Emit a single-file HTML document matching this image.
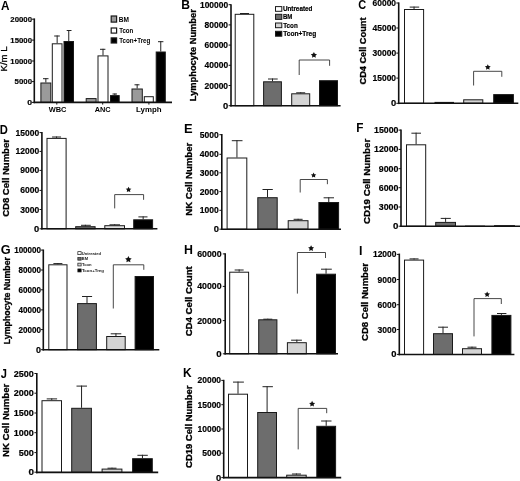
<!DOCTYPE html>
<html><head><meta charset="utf-8"><style>
html,body{margin:0;padding:0;background:#fff;}
svg{display:block;will-change:transform;font-family:"Liberation Sans", sans-serif;}
</style></head><body>
<svg width="520" height="481" viewBox="0 0 520 481">
<rect width="520" height="481" fill="#fff"/>
<g>
<text transform="matrix(0.9460,0,0,1,1.005,9.600)" font-size="12.464" font-weight="bold" fill="#000">A</text>
<line x1="31.90" y1="19.20" x2="34.30" y2="19.20" stroke="#111" stroke-width="1.0"/>
<text transform="matrix(1.0023,0,0,1,10.359,21.882)" font-size="7.775" font-weight="bold" fill="#000" stroke="#000" stroke-width="0.18">20000</text>
<line x1="31.90" y1="40.10" x2="34.30" y2="40.10" stroke="#111" stroke-width="1.0"/>
<text transform="matrix(1.0025,0,0,1,10.354,42.782)" font-size="7.775" font-weight="bold" fill="#000" stroke="#000" stroke-width="0.18">15000</text>
<line x1="31.90" y1="61.00" x2="34.30" y2="61.00" stroke="#111" stroke-width="1.0"/>
<text transform="matrix(1.0025,0,0,1,10.354,63.682)" font-size="7.775" font-weight="bold" fill="#000" stroke="#000" stroke-width="0.18">10000</text>
<line x1="31.90" y1="81.60" x2="34.30" y2="81.60" stroke="#111" stroke-width="1.0"/>
<text transform="matrix(1.0086,0,0,1,14.577,84.282)" font-size="7.775" font-weight="bold" fill="#000" stroke="#000" stroke-width="0.18">5000</text>
<line x1="31.90" y1="102.40" x2="34.30" y2="102.40" stroke="#111" stroke-width="1.0"/>
<text transform="matrix(1.1183,0,0,1,27.232,105.082)" font-size="7.775" font-weight="bold" fill="#000" stroke="#000" stroke-width="0.18">0</text>
<text transform="matrix(0,-0.9897,1,0,6.853,71.415)" font-size="9.660" font-weight="normal" fill="#000" stroke="#000" stroke-width="0.30">K/m L</text>
<line x1="45.85" y1="78.20" x2="45.85" y2="82.50" stroke="#222" stroke-width="1.0"/>
<line x1="43.00" y1="78.70" x2="48.50" y2="78.70" stroke="#222" stroke-width="1.0"/>
<rect x="40.90" y="83.00" width="9.90" height="19.40" fill="#9a9a9a" stroke="#1a1a1a" stroke-width="1.0"/>
<line x1="57.15" y1="35.50" x2="57.15" y2="43.30" stroke="#222" stroke-width="1.0"/>
<line x1="54.20" y1="36.00" x2="59.80" y2="36.00" stroke="#222" stroke-width="1.0"/>
<rect x="52.30" y="43.80" width="9.70" height="58.60" fill="#fff" stroke="#1a1a1a" stroke-width="1.0"/>
<line x1="68.75" y1="30.00" x2="68.75" y2="41.00" stroke="#222" stroke-width="1.0"/>
<line x1="66.70" y1="30.50" x2="71.50" y2="30.50" stroke="#222" stroke-width="1.0"/>
<rect x="64.00" y="41.50" width="9.50" height="60.90" fill="#000" stroke="#1a1a1a" stroke-width="1.0"/>
<rect x="86.20" y="98.60" width="9.90" height="3.80" fill="#9a9a9a" stroke="#1a1a1a" stroke-width="1.0"/>
<line x1="103.00" y1="48.80" x2="103.00" y2="55.40" stroke="#222" stroke-width="1.0"/>
<line x1="100.00" y1="49.30" x2="105.40" y2="49.30" stroke="#222" stroke-width="1.0"/>
<rect x="98.00" y="55.90" width="10.00" height="46.50" fill="#fff" stroke="#1a1a1a" stroke-width="1.0"/>
<line x1="114.85" y1="93.50" x2="114.85" y2="95.10" stroke="#222" stroke-width="1.0"/>
<line x1="112.50" y1="94.00" x2="117.00" y2="94.00" stroke="#222" stroke-width="1.0"/>
<rect x="110.50" y="95.60" width="8.70" height="6.80" fill="#000" stroke="#1a1a1a" stroke-width="1.0"/>
<line x1="137.15" y1="84.30" x2="137.15" y2="88.50" stroke="#222" stroke-width="1.0"/>
<line x1="134.50" y1="84.80" x2="139.50" y2="84.80" stroke="#222" stroke-width="1.0"/>
<rect x="132.00" y="89.00" width="10.30" height="13.40" fill="#9a9a9a" stroke="#1a1a1a" stroke-width="1.0"/>
<rect x="144.30" y="96.70" width="9.00" height="5.70" fill="#fff" stroke="#1a1a1a" stroke-width="1.0"/>
<line x1="160.75" y1="41.20" x2="160.75" y2="51.50" stroke="#222" stroke-width="1.0"/>
<line x1="158.00" y1="41.70" x2="163.40" y2="41.70" stroke="#222" stroke-width="1.0"/>
<rect x="156.20" y="52.00" width="9.10" height="50.40" fill="#000" stroke="#1a1a1a" stroke-width="1.0"/>
<line x1="34.30" y1="18.40" x2="34.30" y2="103.20" stroke="#111" stroke-width="1.6"/>
<line x1="33.60" y1="102.40" x2="172.00" y2="102.40" stroke="#111" stroke-width="1.6"/>
<line x1="56.80" y1="102.40" x2="56.80" y2="104.60" stroke="#111" stroke-width="1.0"/>
<line x1="102.70" y1="102.40" x2="102.70" y2="104.60" stroke="#111" stroke-width="1.0"/>
<line x1="148.90" y1="102.40" x2="148.90" y2="104.60" stroke="#111" stroke-width="1.0"/>
<text transform="matrix(1.0085,0,0,1,181.211,8.800)" font-size="12.029" font-weight="bold" fill="#000">B</text>
<line x1="228.60" y1="4.70" x2="231.00" y2="4.70" stroke="#111" stroke-width="1.0"/>
<text transform="matrix(0.9505,0,0,1,199.932,7.771)" font-size="8.901" font-weight="bold" fill="#000" stroke="#000" stroke-width="0.18">100000</text>
<line x1="228.60" y1="24.90" x2="231.00" y2="24.90" stroke="#111" stroke-width="1.0"/>
<text transform="matrix(0.9540,0,0,1,204.542,27.971)" font-size="8.901" font-weight="bold" fill="#000" stroke="#000" stroke-width="0.18">80000</text>
<line x1="228.60" y1="45.10" x2="231.00" y2="45.10" stroke="#111" stroke-width="1.0"/>
<text transform="matrix(0.9540,0,0,1,204.541,48.171)" font-size="8.901" font-weight="bold" fill="#000" stroke="#000" stroke-width="0.18">60000</text>
<line x1="228.60" y1="65.30" x2="231.00" y2="65.30" stroke="#111" stroke-width="1.0"/>
<text transform="matrix(0.9539,0,0,1,204.545,68.371)" font-size="8.901" font-weight="bold" fill="#000" stroke="#000" stroke-width="0.18">40000</text>
<line x1="228.60" y1="85.50" x2="231.00" y2="85.50" stroke="#111" stroke-width="1.0"/>
<text transform="matrix(0.9540,0,0,1,204.541,88.571)" font-size="8.901" font-weight="bold" fill="#000" stroke="#000" stroke-width="0.18">20000</text>
<line x1="228.60" y1="105.70" x2="231.00" y2="105.70" stroke="#111" stroke-width="1.0"/>
<text transform="matrix(1.0554,0,0,1,222.972,108.771)" font-size="8.901" font-weight="bold" fill="#000" stroke="#000" stroke-width="0.18">0</text>
<text transform="matrix(0,-1.0602,1,0,195.708,101.154)" font-size="8.770" font-weight="bold" fill="#000" stroke="#000" stroke-width="0.30">Lymphocyte Number</text>
<line x1="244.50" y1="13.00" x2="244.50" y2="13.80" stroke="#222" stroke-width="1.0"/>
<line x1="240.00" y1="13.50" x2="249.00" y2="13.50" stroke="#222" stroke-width="1.0"/>
<rect x="235.20" y="14.30" width="18.60" height="91.40" fill="#fff" stroke="#1a1a1a" stroke-width="1.0"/>
<line x1="272.50" y1="78.50" x2="272.50" y2="81.30" stroke="#222" stroke-width="1.0"/>
<line x1="268.00" y1="79.00" x2="277.70" y2="79.00" stroke="#222" stroke-width="1.0"/>
<rect x="263.60" y="81.80" width="17.80" height="23.90" fill="#6d6d6d" stroke="#1a1a1a" stroke-width="1.0"/>
<line x1="300.70" y1="92.30" x2="300.70" y2="93.30" stroke="#222" stroke-width="1.0"/>
<line x1="296.20" y1="92.80" x2="305.20" y2="92.80" stroke="#222" stroke-width="1.0"/>
<rect x="291.70" y="93.80" width="18.00" height="11.90" fill="#d4d4d4" stroke="#1a1a1a" stroke-width="1.0"/>
<rect x="319.50" y="80.70" width="18.00" height="25.00" fill="#000" stroke="#1a1a1a" stroke-width="1.0"/>
<line x1="231.00" y1="4.20" x2="231.00" y2="106.50" stroke="#111" stroke-width="1.6"/>
<line x1="230.30" y1="105.70" x2="340.60" y2="105.70" stroke="#111" stroke-width="1.6"/>
<polyline points="299.2,75 299.2,60 329.6,60 329.6,65.8" fill="none" stroke="#333" stroke-width="0.9"/>
<polygon points="313.90,51.90 314.86,53.84 316.99,54.15 315.45,55.65 315.81,57.78 313.90,56.77 311.99,57.78 312.35,55.65 310.81,54.15 312.94,53.84" fill="#111"/>
<text transform="matrix(0.8672,0,0,1,358.360,8.573)" font-size="12.676" font-weight="bold" fill="#000">C</text>
<line x1="396.30" y1="3.00" x2="398.70" y2="3.00" stroke="#111" stroke-width="1.0"/>
<text transform="matrix(0.9540,0,0,1,372.541,6.071)" font-size="8.901" font-weight="bold" fill="#000" stroke="#000" stroke-width="0.18">60000</text>
<line x1="396.30" y1="28.00" x2="398.70" y2="28.00" stroke="#111" stroke-width="1.0"/>
<text transform="matrix(0.9539,0,0,1,372.545,31.071)" font-size="8.901" font-weight="bold" fill="#000" stroke="#000" stroke-width="0.18">45000</text>
<line x1="396.30" y1="53.10" x2="398.70" y2="53.10" stroke="#111" stroke-width="1.0"/>
<text transform="matrix(0.9540,0,0,1,372.543,56.171)" font-size="8.901" font-weight="bold" fill="#000" stroke="#000" stroke-width="0.18">30000</text>
<line x1="396.30" y1="78.10" x2="398.70" y2="78.10" stroke="#111" stroke-width="1.0"/>
<text transform="matrix(0.9542,0,0,1,372.536,81.171)" font-size="8.901" font-weight="bold" fill="#000" stroke="#000" stroke-width="0.18">15000</text>
<line x1="396.30" y1="103.30" x2="398.70" y2="103.30" stroke="#111" stroke-width="1.0"/>
<text transform="matrix(1.0554,0,0,1,390.972,106.371)" font-size="8.901" font-weight="bold" fill="#000" stroke="#000" stroke-width="0.18">0</text>
<text transform="matrix(0,-1.0097,1,0,366.059,84.518)" font-size="9.116" font-weight="bold" fill="#000" stroke="#000" stroke-width="0.30">CD4 Cell Count</text>
<line x1="414.05" y1="6.60" x2="414.05" y2="9.00" stroke="#222" stroke-width="1.0"/>
<line x1="409.70" y1="7.10" x2="419.20" y2="7.10" stroke="#222" stroke-width="1.0"/>
<rect x="404.50" y="9.50" width="19.10" height="93.80" fill="#fff" stroke="#1a1a1a" stroke-width="1.0"/>
<rect x="435.00" y="102.40" width="18.50" height="0.90" fill="#6d6d6d" stroke="#1a1a1a" stroke-width="1.0"/>
<rect x="463.70" y="99.80" width="19.10" height="3.50" fill="#d4d4d4" stroke="#1a1a1a" stroke-width="1.0"/>
<rect x="493.70" y="94.60" width="19.70" height="8.70" fill="#000" stroke="#1a1a1a" stroke-width="1.0"/>
<line x1="398.70" y1="2.40" x2="398.70" y2="104.10" stroke="#111" stroke-width="1.6"/>
<line x1="398.00" y1="103.30" x2="518.30" y2="103.30" stroke="#111" stroke-width="1.6"/>
<polyline points="473.6,85.5 473.6,71.3 501.8,71.3 501.8,76.8" fill="none" stroke="#333" stroke-width="0.9"/>
<polygon points="487.80,64.15 488.70,65.97 490.70,66.26 489.25,67.67 489.59,69.67 487.80,68.72 486.01,69.67 486.35,67.67 484.90,66.26 486.90,65.97" fill="#111"/>
<text transform="matrix(0.8898,0,0,1,-0.129,133.700)" font-size="12.609" font-weight="bold" fill="#000">D</text>
<line x1="39.50" y1="132.60" x2="41.90" y2="132.60" stroke="#111" stroke-width="1.0"/>
<text transform="matrix(0.9696,0,0,1,15.536,135.622)" font-size="8.761" font-weight="bold" fill="#000" stroke="#000" stroke-width="0.18">15000</text>
<line x1="39.50" y1="151.40" x2="41.90" y2="151.40" stroke="#111" stroke-width="1.0"/>
<text transform="matrix(0.9696,0,0,1,15.536,154.422)" font-size="8.761" font-weight="bold" fill="#000" stroke="#000" stroke-width="0.18">12000</text>
<line x1="39.50" y1="170.40" x2="41.90" y2="170.40" stroke="#111" stroke-width="1.0"/>
<text transform="matrix(0.9750,0,0,1,20.146,173.422)" font-size="8.761" font-weight="bold" fill="#000" stroke="#000" stroke-width="0.18">9000</text>
<line x1="39.50" y1="190.40" x2="41.90" y2="190.40" stroke="#111" stroke-width="1.0"/>
<text transform="matrix(0.9750,0,0,1,20.146,193.422)" font-size="8.761" font-weight="bold" fill="#000" stroke="#000" stroke-width="0.18">6000</text>
<line x1="39.50" y1="209.50" x2="41.90" y2="209.50" stroke="#111" stroke-width="1.0"/>
<text transform="matrix(0.9749,0,0,1,20.148,212.522)" font-size="8.761" font-weight="bold" fill="#000" stroke="#000" stroke-width="0.18">3000</text>
<line x1="39.50" y1="228.80" x2="41.90" y2="228.80" stroke="#111" stroke-width="1.0"/>
<text transform="matrix(1.0724,0,0,1,33.972,231.822)" font-size="8.761" font-weight="bold" fill="#000" stroke="#000" stroke-width="0.18">0</text>
<text transform="matrix(0,-1.0463,1,0,9.459,216.832)" font-size="9.116" font-weight="bold" fill="#000" stroke="#000" stroke-width="0.30">CD8 Cell Number</text>
<line x1="56.55" y1="136.50" x2="56.55" y2="137.90" stroke="#222" stroke-width="1.0"/>
<line x1="52.05" y1="137.00" x2="61.05" y2="137.00" stroke="#222" stroke-width="1.0"/>
<rect x="47.00" y="138.40" width="19.10" height="90.40" fill="#fff" stroke="#1a1a1a" stroke-width="1.0"/>
<line x1="85.40" y1="224.80" x2="85.40" y2="226.20" stroke="#222" stroke-width="1.0"/>
<line x1="81.00" y1="225.30" x2="90.80" y2="225.30" stroke="#222" stroke-width="1.0"/>
<rect x="75.70" y="226.70" width="19.40" height="2.10" fill="#6d6d6d" stroke="#1a1a1a" stroke-width="1.0"/>
<line x1="114.65" y1="224.30" x2="114.65" y2="225.20" stroke="#222" stroke-width="1.0"/>
<line x1="109.50" y1="224.80" x2="120.00" y2="224.80" stroke="#222" stroke-width="1.0"/>
<rect x="104.80" y="225.70" width="19.70" height="3.10" fill="#e2e2e2" stroke="#1a1a1a" stroke-width="1.0"/>
<line x1="143.15" y1="216.40" x2="143.15" y2="219.30" stroke="#222" stroke-width="1.0"/>
<line x1="138.40" y1="216.90" x2="147.50" y2="216.90" stroke="#222" stroke-width="1.0"/>
<rect x="133.70" y="219.80" width="18.90" height="9.00" fill="#000" stroke="#1a1a1a" stroke-width="1.0"/>
<line x1="41.90" y1="132.00" x2="41.90" y2="229.60" stroke="#111" stroke-width="1.6"/>
<line x1="41.20" y1="228.80" x2="157.40" y2="228.80" stroke="#111" stroke-width="1.6"/>
<polyline points="114.7,208.4 114.7,194.6 143.6,194.6 143.6,199.8" fill="none" stroke="#333" stroke-width="0.9"/>
<polygon points="128.55,186.65 129.43,188.44 131.40,188.72 129.98,190.11 130.31,192.08 128.55,191.15 126.79,192.08 127.12,190.11 125.70,188.72 127.67,188.44" fill="#111"/>
<text transform="matrix(0.9797,0,0,1,183.960,133.100)" font-size="13.188" font-weight="bold" fill="#000">E</text>
<line x1="219.40" y1="134.70" x2="221.80" y2="134.70" stroke="#111" stroke-width="1.0"/>
<text transform="matrix(0.9595,0,0,1,199.847,137.771)" font-size="8.901" font-weight="bold" fill="#000" stroke="#000" stroke-width="0.18">5000</text>
<line x1="219.40" y1="154.30" x2="221.80" y2="154.30" stroke="#111" stroke-width="1.0"/>
<text transform="matrix(0.9594,0,0,1,199.851,157.371)" font-size="8.901" font-weight="bold" fill="#000" stroke="#000" stroke-width="0.18">4000</text>
<line x1="219.40" y1="172.80" x2="221.80" y2="172.80" stroke="#111" stroke-width="1.0"/>
<text transform="matrix(0.9595,0,0,1,199.848,175.871)" font-size="8.901" font-weight="bold" fill="#000" stroke="#000" stroke-width="0.18">3000</text>
<line x1="219.40" y1="191.60" x2="221.80" y2="191.60" stroke="#111" stroke-width="1.0"/>
<text transform="matrix(0.9596,0,0,1,199.846,194.671)" font-size="8.901" font-weight="bold" fill="#000" stroke="#000" stroke-width="0.18">2000</text>
<line x1="219.40" y1="210.30" x2="221.80" y2="210.30" stroke="#111" stroke-width="1.0"/>
<text transform="matrix(0.9599,0,0,1,199.840,213.371)" font-size="8.901" font-weight="bold" fill="#000" stroke="#000" stroke-width="0.18">1000</text>
<line x1="219.40" y1="229.20" x2="221.80" y2="229.20" stroke="#111" stroke-width="1.0"/>
<text transform="matrix(1.0554,0,0,1,213.672,232.271)" font-size="8.901" font-weight="bold" fill="#000" stroke="#000" stroke-width="0.18">0</text>
<text transform="matrix(0,-1.1035,1,0,191.763,215.775)" font-size="8.707" font-weight="bold" fill="#000" stroke="#000" stroke-width="0.30">NK Cell Number</text>
<line x1="236.95" y1="140.20" x2="236.95" y2="157.50" stroke="#222" stroke-width="1.0"/>
<line x1="231.80" y1="140.70" x2="242.50" y2="140.70" stroke="#222" stroke-width="1.0"/>
<rect x="227.10" y="158.00" width="19.70" height="71.20" fill="#fff" stroke="#1a1a1a" stroke-width="1.0"/>
<line x1="267.50" y1="189.00" x2="267.50" y2="197.20" stroke="#222" stroke-width="1.0"/>
<line x1="262.50" y1="189.50" x2="272.80" y2="189.50" stroke="#222" stroke-width="1.0"/>
<rect x="257.80" y="197.70" width="19.40" height="31.50" fill="#6d6d6d" stroke="#1a1a1a" stroke-width="1.0"/>
<line x1="298.10" y1="218.80" x2="298.10" y2="220.20" stroke="#222" stroke-width="1.0"/>
<line x1="293.60" y1="219.30" x2="302.60" y2="219.30" stroke="#222" stroke-width="1.0"/>
<rect x="288.20" y="220.70" width="19.80" height="8.50" fill="#d4d4d4" stroke="#1a1a1a" stroke-width="1.0"/>
<line x1="328.75" y1="197.30" x2="328.75" y2="202.00" stroke="#222" stroke-width="1.0"/>
<line x1="323.60" y1="197.80" x2="334.00" y2="197.80" stroke="#222" stroke-width="1.0"/>
<rect x="318.90" y="202.50" width="19.70" height="26.70" fill="#000" stroke="#1a1a1a" stroke-width="1.0"/>
<line x1="221.80" y1="134.10" x2="221.80" y2="230.00" stroke="#111" stroke-width="1.6"/>
<line x1="221.10" y1="229.20" x2="341.00" y2="229.20" stroke="#111" stroke-width="1.6"/>
<polyline points="300.2,192.5 300.2,179.5 327.4,179.5 327.4,184.2" fill="none" stroke="#333" stroke-width="0.9"/>
<polygon points="313.60,172.45 314.44,174.15 316.31,174.42 314.96,175.74 315.28,177.61 313.60,176.72 311.92,177.61 312.24,175.74 310.89,174.42 312.76,174.15" fill="#111"/>
<text transform="matrix(0.9020,0,0,1,356.235,131.800)" font-size="13.043" font-weight="bold" fill="#000">F</text>
<line x1="398.60" y1="130.10" x2="401.00" y2="130.10" stroke="#111" stroke-width="1.0"/>
<text transform="matrix(0.9879,0,0,1,374.014,133.171)" font-size="8.901" font-weight="bold" fill="#000" stroke="#000" stroke-width="0.18">15000</text>
<line x1="398.60" y1="149.40" x2="401.00" y2="149.40" stroke="#111" stroke-width="1.0"/>
<text transform="matrix(0.9879,0,0,1,374.014,152.471)" font-size="8.901" font-weight="bold" fill="#000" stroke="#000" stroke-width="0.18">12000</text>
<line x1="398.60" y1="168.70" x2="401.00" y2="168.70" stroke="#111" stroke-width="1.0"/>
<text transform="matrix(0.9933,0,0,1,378.791,171.771)" font-size="8.901" font-weight="bold" fill="#000" stroke="#000" stroke-width="0.18">9000</text>
<line x1="398.60" y1="187.70" x2="401.00" y2="187.70" stroke="#111" stroke-width="1.0"/>
<text transform="matrix(0.9933,0,0,1,378.791,190.771)" font-size="8.901" font-weight="bold" fill="#000" stroke="#000" stroke-width="0.18">6000</text>
<line x1="398.60" y1="207.00" x2="401.00" y2="207.00" stroke="#111" stroke-width="1.0"/>
<text transform="matrix(0.9932,0,0,1,378.793,210.071)" font-size="8.901" font-weight="bold" fill="#000" stroke="#000" stroke-width="0.18">3000</text>
<line x1="398.60" y1="226.20" x2="401.00" y2="226.20" stroke="#111" stroke-width="1.0"/>
<text transform="matrix(1.0891,0,0,1,393.117,229.271)" font-size="8.901" font-weight="bold" fill="#000" stroke="#000" stroke-width="0.18">0</text>
<text transform="matrix(0,-1.0270,1,0,369.655,224.041)" font-size="9.524" font-weight="bold" fill="#000" stroke="#000" stroke-width="0.30">CD19 Cell Number</text>
<line x1="416.10" y1="132.70" x2="416.10" y2="144.30" stroke="#222" stroke-width="1.0"/>
<line x1="411.40" y1="133.20" x2="421.00" y2="133.20" stroke="#222" stroke-width="1.0"/>
<rect x="406.50" y="144.80" width="19.20" height="81.40" fill="#fff" stroke="#1a1a1a" stroke-width="1.0"/>
<line x1="445.60" y1="217.90" x2="445.60" y2="221.90" stroke="#222" stroke-width="1.0"/>
<line x1="440.70" y1="218.40" x2="450.80" y2="218.40" stroke="#222" stroke-width="1.0"/>
<rect x="435.70" y="222.40" width="19.80" height="3.80" fill="#6d6d6d" stroke="#1a1a1a" stroke-width="1.0"/>
<rect x="465.50" y="226.10" width="19.00" height="0.10" fill="#d4d4d4" stroke="#1a1a1a" stroke-width="1.0"/>
<rect x="494.50" y="225.70" width="20.00" height="0.50" fill="#000" stroke="#1a1a1a" stroke-width="1.0"/>
<line x1="401.00" y1="129.50" x2="401.00" y2="227.00" stroke="#111" stroke-width="1.6"/>
<line x1="400.30" y1="226.20" x2="520.00" y2="226.20" stroke="#111" stroke-width="1.6"/>
<text transform="matrix(1.0398,0,0,1,0.690,254.077)" font-size="12.254" font-weight="bold" fill="#000">G</text>
<line x1="40.90" y1="250.10" x2="43.30" y2="250.10" stroke="#111" stroke-width="1.0"/>
<text transform="matrix(0.9056,0,0,1,14.150,253.171)" font-size="8.901" font-weight="bold" fill="#000" stroke="#000" stroke-width="0.18">100000</text>
<line x1="40.90" y1="270.00" x2="43.30" y2="270.00" stroke="#111" stroke-width="1.0"/>
<text transform="matrix(0.9091,0,0,1,18.538,273.071)" font-size="8.901" font-weight="bold" fill="#000" stroke="#000" stroke-width="0.18">80000</text>
<line x1="40.90" y1="289.80" x2="43.30" y2="289.80" stroke="#111" stroke-width="1.0"/>
<text transform="matrix(0.9091,0,0,1,18.537,292.871)" font-size="8.901" font-weight="bold" fill="#000" stroke="#000" stroke-width="0.18">60000</text>
<line x1="40.90" y1="309.90" x2="43.30" y2="309.90" stroke="#111" stroke-width="1.0"/>
<text transform="matrix(0.9089,0,0,1,18.541,312.971)" font-size="8.901" font-weight="bold" fill="#000" stroke="#000" stroke-width="0.18">40000</text>
<line x1="40.90" y1="329.60" x2="43.30" y2="329.60" stroke="#111" stroke-width="1.0"/>
<text transform="matrix(0.9091,0,0,1,18.537,332.671)" font-size="8.901" font-weight="bold" fill="#000" stroke="#000" stroke-width="0.18">20000</text>
<line x1="40.90" y1="349.70" x2="43.30" y2="349.70" stroke="#111" stroke-width="1.0"/>
<text transform="matrix(1.0105,0,0,1,36.078,352.771)" font-size="8.901" font-weight="bold" fill="#000" stroke="#000" stroke-width="0.18">0</text>
<text transform="matrix(0,-1.0826,1,0,9.743,344.222)" font-size="8.128" font-weight="bold" fill="#000" stroke="#000" stroke-width="0.30">Lymphocyte Number</text>
<line x1="57.90" y1="263.10" x2="57.90" y2="264.30" stroke="#222" stroke-width="1.0"/>
<line x1="53.40" y1="263.60" x2="62.40" y2="263.60" stroke="#222" stroke-width="1.0"/>
<rect x="48.80" y="264.80" width="18.20" height="84.90" fill="#fff" stroke="#1a1a1a" stroke-width="1.0"/>
<line x1="87.00" y1="296.00" x2="87.00" y2="303.10" stroke="#222" stroke-width="1.0"/>
<line x1="82.00" y1="296.50" x2="92.10" y2="296.50" stroke="#222" stroke-width="1.0"/>
<rect x="77.60" y="303.60" width="18.80" height="46.10" fill="#6d6d6d" stroke="#1a1a1a" stroke-width="1.0"/>
<line x1="115.95" y1="333.30" x2="115.95" y2="336.00" stroke="#222" stroke-width="1.0"/>
<line x1="110.70" y1="333.80" x2="121.30" y2="333.80" stroke="#222" stroke-width="1.0"/>
<rect x="106.70" y="336.50" width="18.50" height="13.20" fill="#d4d4d4" stroke="#1a1a1a" stroke-width="1.0"/>
<rect x="135.10" y="276.50" width="18.40" height="73.20" fill="#000" stroke="#1a1a1a" stroke-width="1.0"/>
<line x1="43.30" y1="249.50" x2="43.30" y2="350.50" stroke="#111" stroke-width="1.6"/>
<line x1="42.60" y1="349.70" x2="159.30" y2="349.70" stroke="#111" stroke-width="1.6"/>
<polyline points="113.3,308.5 113.3,264.8 143.8,264.8 143.8,269.8" fill="none" stroke="#333" stroke-width="0.9"/>
<polygon points="128.40,256.00 129.41,258.05 131.68,258.38 130.04,259.98 130.43,262.24 128.40,261.18 126.37,262.24 126.76,259.98 125.12,258.38 127.39,258.05" fill="#111"/>
<text transform="matrix(0.9701,0,0,1,183.996,253.800)" font-size="12.754" font-weight="bold" fill="#000">H</text>
<line x1="222.80" y1="253.90" x2="225.20" y2="253.90" stroke="#111" stroke-width="1.0"/>
<text transform="matrix(0.9877,0,0,1,197.219,256.971)" font-size="8.901" font-weight="bold" fill="#000" stroke="#000" stroke-width="0.18">60000</text>
<line x1="222.80" y1="286.40" x2="225.20" y2="286.40" stroke="#111" stroke-width="1.0"/>
<text transform="matrix(0.9876,0,0,1,197.223,289.471)" font-size="8.901" font-weight="bold" fill="#000" stroke="#000" stroke-width="0.18">40000</text>
<line x1="222.80" y1="320.60" x2="225.20" y2="320.60" stroke="#111" stroke-width="1.0"/>
<text transform="matrix(0.9877,0,0,1,197.219,323.671)" font-size="8.901" font-weight="bold" fill="#000" stroke="#000" stroke-width="0.18">20000</text>
<line x1="222.80" y1="353.80" x2="225.20" y2="353.80" stroke="#111" stroke-width="1.0"/>
<text transform="matrix(1.0891,0,0,1,216.317,356.871)" font-size="8.901" font-weight="bold" fill="#000" stroke="#000" stroke-width="0.18">0</text>
<text transform="matrix(0,-1.1607,1,0,192.167,336.335)" font-size="8.299" font-weight="bold" fill="#000" stroke="#000" stroke-width="0.30">CD4 Cell Count</text>
<line x1="239.15" y1="269.50" x2="239.15" y2="271.70" stroke="#222" stroke-width="1.0"/>
<line x1="234.65" y1="270.00" x2="243.65" y2="270.00" stroke="#222" stroke-width="1.0"/>
<rect x="229.70" y="272.20" width="18.90" height="81.60" fill="#fff" stroke="#1a1a1a" stroke-width="1.0"/>
<line x1="267.80" y1="318.70" x2="267.80" y2="319.30" stroke="#222" stroke-width="1.0"/>
<line x1="263.30" y1="319.20" x2="272.30" y2="319.20" stroke="#222" stroke-width="1.0"/>
<rect x="258.70" y="319.80" width="18.20" height="34.00" fill="#6d6d6d" stroke="#1a1a1a" stroke-width="1.0"/>
<line x1="296.85" y1="339.70" x2="296.85" y2="342.20" stroke="#222" stroke-width="1.0"/>
<line x1="291.10" y1="340.20" x2="301.90" y2="340.20" stroke="#222" stroke-width="1.0"/>
<rect x="287.40" y="342.70" width="18.90" height="11.10" fill="#d4d4d4" stroke="#1a1a1a" stroke-width="1.0"/>
<line x1="326.05" y1="268.70" x2="326.05" y2="273.70" stroke="#222" stroke-width="1.0"/>
<line x1="321.00" y1="269.20" x2="331.80" y2="269.20" stroke="#222" stroke-width="1.0"/>
<rect x="316.60" y="274.20" width="18.90" height="79.60" fill="#000" stroke="#1a1a1a" stroke-width="1.0"/>
<line x1="225.20" y1="253.30" x2="225.20" y2="354.60" stroke="#111" stroke-width="1.6"/>
<line x1="224.50" y1="353.80" x2="338.00" y2="353.80" stroke="#111" stroke-width="1.6"/>
<polyline points="297.4,293.6 297.4,252.5 325.5,252.5 325.5,258" fill="none" stroke="#333" stroke-width="0.9"/>
<polygon points="311.10,245.20 312.03,247.08 314.10,247.38 312.60,248.84 312.95,250.90 311.10,249.92 309.25,250.90 309.60,248.84 308.10,247.38 310.17,247.08" fill="#111"/>
<text transform="matrix(0.9960,0,0,1,358.993,254.500)" font-size="12.464" font-weight="bold" fill="#000">I</text>
<line x1="396.90" y1="254.40" x2="399.30" y2="254.40" stroke="#111" stroke-width="1.0"/>
<text transform="matrix(0.9542,0,0,1,372.936,257.471)" font-size="8.901" font-weight="bold" fill="#000" stroke="#000" stroke-width="0.18">12000</text>
<line x1="396.90" y1="279.50" x2="399.30" y2="279.50" stroke="#111" stroke-width="1.0"/>
<text transform="matrix(0.9596,0,0,1,377.546,282.571)" font-size="8.901" font-weight="bold" fill="#000" stroke="#000" stroke-width="0.18">9000</text>
<line x1="396.90" y1="304.70" x2="399.30" y2="304.70" stroke="#111" stroke-width="1.0"/>
<text transform="matrix(0.9596,0,0,1,377.546,307.771)" font-size="8.901" font-weight="bold" fill="#000" stroke="#000" stroke-width="0.18">6000</text>
<line x1="396.90" y1="329.50" x2="399.30" y2="329.50" stroke="#111" stroke-width="1.0"/>
<text transform="matrix(0.9595,0,0,1,377.548,332.571)" font-size="8.901" font-weight="bold" fill="#000" stroke="#000" stroke-width="0.18">3000</text>
<line x1="396.90" y1="354.40" x2="399.30" y2="354.40" stroke="#111" stroke-width="1.0"/>
<text transform="matrix(1.0554,0,0,1,391.372,357.471)" font-size="8.901" font-weight="bold" fill="#000" stroke="#000" stroke-width="0.18">0</text>
<text transform="matrix(0,-1.0799,1,0,367.762,340.932)" font-size="8.844" font-weight="bold" fill="#000" stroke="#000" stroke-width="0.30">CD8 Cell Number</text>
<line x1="414.05" y1="258.40" x2="414.05" y2="259.60" stroke="#222" stroke-width="1.0"/>
<line x1="409.55" y1="258.90" x2="418.55" y2="258.90" stroke="#222" stroke-width="1.0"/>
<rect x="404.50" y="260.10" width="19.10" height="94.40" fill="#fff" stroke="#1a1a1a" stroke-width="1.0"/>
<line x1="443.00" y1="326.70" x2="443.00" y2="333.20" stroke="#222" stroke-width="1.0"/>
<line x1="438.10" y1="327.20" x2="448.00" y2="327.20" stroke="#222" stroke-width="1.0"/>
<rect x="433.50" y="333.70" width="19.00" height="20.80" fill="#6d6d6d" stroke="#1a1a1a" stroke-width="1.0"/>
<line x1="472.00" y1="346.70" x2="472.00" y2="348.20" stroke="#222" stroke-width="1.0"/>
<line x1="467.50" y1="347.20" x2="476.50" y2="347.20" stroke="#222" stroke-width="1.0"/>
<rect x="462.50" y="348.70" width="19.00" height="5.80" fill="#d4d4d4" stroke="#1a1a1a" stroke-width="1.0"/>
<line x1="501.40" y1="313.00" x2="501.40" y2="314.90" stroke="#222" stroke-width="1.0"/>
<line x1="497.00" y1="313.50" x2="506.40" y2="313.50" stroke="#222" stroke-width="1.0"/>
<rect x="491.90" y="315.40" width="19.00" height="39.10" fill="#000" stroke="#1a1a1a" stroke-width="1.0"/>
<line x1="399.30" y1="253.60" x2="399.30" y2="355.30" stroke="#111" stroke-width="1.6"/>
<line x1="398.60" y1="354.50" x2="514.40" y2="354.50" stroke="#111" stroke-width="1.6"/>
<polyline points="474,336.4 474,298.6 501.3,298.6 501.3,304" fill="none" stroke="#333" stroke-width="0.9"/>
<polygon points="487.15,291.50 488.03,293.29 490.00,293.57 488.58,294.96 488.91,296.93 487.15,296.00 485.39,296.93 485.72,294.96 484.30,293.57 486.27,293.29" fill="#111"/>
<text transform="matrix(0.9082,0,0,1,0.833,378.277)" font-size="12.286" font-weight="bold" fill="#000">J</text>
<line x1="34.40" y1="373.50" x2="36.80" y2="373.50" stroke="#111" stroke-width="1.0"/>
<text transform="matrix(1.0158,0,0,1,13.754,376.571)" font-size="8.901" font-weight="bold" fill="#000" stroke="#000" stroke-width="0.18">2500</text>
<line x1="34.40" y1="393.20" x2="36.80" y2="393.20" stroke="#111" stroke-width="1.0"/>
<text transform="matrix(1.0158,0,0,1,13.754,396.271)" font-size="8.901" font-weight="bold" fill="#000" stroke="#000" stroke-width="0.18">2000</text>
<line x1="34.40" y1="413.00" x2="36.80" y2="413.00" stroke="#111" stroke-width="1.0"/>
<text transform="matrix(1.0161,0,0,1,13.747,416.071)" font-size="8.901" font-weight="bold" fill="#000" stroke="#000" stroke-width="0.18">1500</text>
<line x1="34.40" y1="432.70" x2="36.80" y2="432.70" stroke="#111" stroke-width="1.0"/>
<text transform="matrix(1.0161,0,0,1,13.747,435.771)" font-size="8.901" font-weight="bold" fill="#000" stroke="#000" stroke-width="0.18">1000</text>
<line x1="34.40" y1="452.60" x2="36.80" y2="452.60" stroke="#111" stroke-width="1.0"/>
<text transform="matrix(1.0252,0,0,1,18.680,455.671)" font-size="8.901" font-weight="bold" fill="#000" stroke="#000" stroke-width="0.18">500</text>
<line x1="34.40" y1="472.20" x2="36.80" y2="472.20" stroke="#111" stroke-width="1.0"/>
<text transform="matrix(1.1116,0,0,1,28.414,475.271)" font-size="8.901" font-weight="bold" fill="#000" stroke="#000" stroke-width="0.18">0</text>
<text transform="matrix(0,-1.0443,1,0,9.457,457.078)" font-size="9.252" font-weight="bold" fill="#000" stroke="#000" stroke-width="0.30">NK Cell Number</text>
<line x1="51.75" y1="398.40" x2="51.75" y2="400.20" stroke="#222" stroke-width="1.0"/>
<line x1="46.70" y1="398.90" x2="57.10" y2="398.90" stroke="#222" stroke-width="1.0"/>
<rect x="42.00" y="400.70" width="19.50" height="71.70" fill="#fff" stroke="#1a1a1a" stroke-width="1.0"/>
<line x1="81.55" y1="385.60" x2="81.55" y2="407.80" stroke="#222" stroke-width="1.0"/>
<line x1="76.50" y1="386.10" x2="87.00" y2="386.10" stroke="#222" stroke-width="1.0"/>
<rect x="71.70" y="408.30" width="19.70" height="64.10" fill="#6d6d6d" stroke="#1a1a1a" stroke-width="1.0"/>
<line x1="112.00" y1="467.70" x2="112.00" y2="468.60" stroke="#222" stroke-width="1.0"/>
<line x1="107.50" y1="468.20" x2="116.50" y2="468.20" stroke="#222" stroke-width="1.0"/>
<rect x="102.10" y="469.10" width="19.80" height="3.30" fill="#d4d4d4" stroke="#1a1a1a" stroke-width="1.0"/>
<line x1="142.45" y1="454.80" x2="142.45" y2="458.20" stroke="#222" stroke-width="1.0"/>
<line x1="137.40" y1="455.30" x2="147.80" y2="455.30" stroke="#222" stroke-width="1.0"/>
<rect x="132.60" y="458.70" width="19.70" height="13.70" fill="#000" stroke="#1a1a1a" stroke-width="1.0"/>
<line x1="36.80" y1="372.90" x2="36.80" y2="473.20" stroke="#111" stroke-width="1.6"/>
<line x1="36.10" y1="472.40" x2="158.20" y2="472.40" stroke="#111" stroke-width="1.6"/>
<text transform="matrix(0.8953,0,0,1,183.024,376.800)" font-size="13.333" font-weight="bold" fill="#000">K</text>
<line x1="221.30" y1="380.40" x2="223.70" y2="380.40" stroke="#111" stroke-width="1.0"/>
<text transform="matrix(0.9540,0,0,1,197.541,383.471)" font-size="8.901" font-weight="bold" fill="#000" stroke="#000" stroke-width="0.18">20000</text>
<line x1="221.30" y1="404.70" x2="223.70" y2="404.70" stroke="#111" stroke-width="1.0"/>
<text transform="matrix(0.9542,0,0,1,197.536,407.771)" font-size="8.901" font-weight="bold" fill="#000" stroke="#000" stroke-width="0.18">15000</text>
<line x1="221.30" y1="429.00" x2="223.70" y2="429.00" stroke="#111" stroke-width="1.0"/>
<text transform="matrix(0.9542,0,0,1,197.536,432.071)" font-size="8.901" font-weight="bold" fill="#000" stroke="#000" stroke-width="0.18">10000</text>
<line x1="221.30" y1="453.20" x2="223.70" y2="453.20" stroke="#111" stroke-width="1.0"/>
<text transform="matrix(0.9595,0,0,1,202.147,456.271)" font-size="8.901" font-weight="bold" fill="#000" stroke="#000" stroke-width="0.18">5000</text>
<line x1="221.30" y1="477.60" x2="223.70" y2="477.60" stroke="#111" stroke-width="1.0"/>
<text transform="matrix(1.0554,0,0,1,215.972,480.671)" font-size="8.901" font-weight="bold" fill="#000" stroke="#000" stroke-width="0.18">0</text>
<text transform="matrix(0,-1.1396,1,0,192.167,467.928)" font-size="8.299" font-weight="bold" fill="#000" stroke="#000" stroke-width="0.30">CD19 Cell Number</text>
<line x1="238.00" y1="381.60" x2="238.00" y2="393.70" stroke="#222" stroke-width="1.0"/>
<line x1="233.00" y1="382.10" x2="243.90" y2="382.10" stroke="#222" stroke-width="1.0"/>
<rect x="228.50" y="394.20" width="19.00" height="83.40" fill="#fff" stroke="#1a1a1a" stroke-width="1.0"/>
<line x1="267.10" y1="386.20" x2="267.10" y2="412.00" stroke="#222" stroke-width="1.0"/>
<line x1="262.50" y1="386.70" x2="272.90" y2="386.70" stroke="#222" stroke-width="1.0"/>
<rect x="257.70" y="412.50" width="18.80" height="65.10" fill="#6d6d6d" stroke="#1a1a1a" stroke-width="1.0"/>
<line x1="296.45" y1="473.50" x2="296.45" y2="474.70" stroke="#222" stroke-width="1.0"/>
<line x1="291.95" y1="474.00" x2="300.95" y2="474.00" stroke="#222" stroke-width="1.0"/>
<rect x="286.70" y="475.20" width="19.50" height="2.40" fill="#d4d4d4" stroke="#1a1a1a" stroke-width="1.0"/>
<line x1="326.20" y1="420.50" x2="326.20" y2="425.80" stroke="#222" stroke-width="1.0"/>
<line x1="321.10" y1="421.00" x2="331.50" y2="421.00" stroke="#222" stroke-width="1.0"/>
<rect x="316.80" y="426.30" width="18.80" height="51.30" fill="#000" stroke="#1a1a1a" stroke-width="1.0"/>
<line x1="223.70" y1="379.80" x2="223.70" y2="478.40" stroke="#111" stroke-width="1.6"/>
<line x1="223.00" y1="477.60" x2="341.20" y2="477.60" stroke="#111" stroke-width="1.6"/>
<polyline points="298.2,449.4 298.2,408.4 326.7,408.4 326.7,413.2" fill="none" stroke="#333" stroke-width="0.9"/>
<polygon points="312.10,400.80 313.03,402.68 315.10,402.98 313.60,404.44 313.95,406.50 312.10,405.53 310.25,406.50 310.60,404.44 309.10,402.98 311.17,402.68" fill="#111"/>
<text transform="matrix(0.9805,0,0,1,48.700,111.724)" font-size="7.606" font-weight="bold" fill="#000">WBC</text>
<text transform="matrix(0.9698,0,0,1,94.716,111.724)" font-size="7.606" font-weight="bold" fill="#000">ANC</text>
<text transform="matrix(1.0115,0,0,1,136.087,111.660)" font-size="7.807" font-weight="bold" fill="#000">Lymph</text>
<rect x="111.20" y="16.00" width="5.40" height="6.10" fill="#9a9a9a" stroke="#1a1a1a" stroke-width="1.2"/>
<rect x="111.20" y="28.00" width="5.40" height="5.10" fill="#fff" stroke="#1a1a1a" stroke-width="1.2"/>
<rect x="111.20" y="37.90" width="5.40" height="5.10" fill="#000" stroke="#1a1a1a" stroke-width="1.2"/>
<text transform="matrix(0.8690,0,0,1,118.774,21.800)" font-size="7.536" font-weight="bold" fill="#000">BM</text>
<text transform="matrix(0.7968,0,0,1,119.139,33.023)" font-size="7.714" font-weight="bold" fill="#000">Tcon</text>
<text transform="matrix(0.8777,0,0,1,119.138,42.907)" font-size="7.111" font-weight="bold" fill="#000">Tcon+Treg</text>
<rect x="275.50" y="6.60" width="6.30" height="4.70" fill="#fff" stroke="#1a1a1a" stroke-width="1.0"/>
<text transform="matrix(0.9293,0,0,1,282.921,11.232)" font-size="6.803" font-weight="bold" fill="#000" stroke="#000" stroke-width="0.20">Untreated</text>
<rect x="275.50" y="14.30" width="6.30" height="5.10" fill="#6d6d6d" stroke="#1a1a1a" stroke-width="1.0"/>
<text transform="matrix(0.7739,0,0,1,282.906,19.400)" font-size="7.826" font-weight="bold" fill="#000" stroke="#000" stroke-width="0.20">BM</text>
<rect x="275.50" y="23.00" width="6.30" height="4.70" fill="#d4d4d4" stroke="#1a1a1a" stroke-width="1.0"/>
<text transform="matrix(0.8793,0,0,1,283.237,27.629)" font-size="7.143" font-weight="bold" fill="#000" stroke="#000" stroke-width="0.20">Tcon</text>
<rect x="275.50" y="31.30" width="6.30" height="4.90" fill="#000" stroke="#1a1a1a" stroke-width="1.0"/>
<text transform="matrix(0.9290,0,0,1,283.234,35.907)" font-size="7.111" font-weight="bold" fill="#000" stroke="#000" stroke-width="0.20">Tcon+Treg</text>
<rect x="77.85" y="251.65" width="3.30" height="3.00" fill="#fff" stroke="#1a1a1a" stroke-width="0.7"/>
<text transform="matrix(0.9766,0,0,1,81.753,254.758)" font-size="4.218" font-weight="bold" fill="#222">Untreated</text>
<rect x="77.85" y="257.65" width="3.30" height="2.50" fill="#6d6d6d" stroke="#1a1a1a" stroke-width="0.7"/>
<text transform="matrix(1.0840,0,0,1,81.735,260.300)" font-size="3.768" font-weight="bold" fill="#222">BM</text>
<rect x="77.85" y="263.15" width="3.30" height="2.80" fill="#d4d4d4" stroke="#1a1a1a" stroke-width="0.7"/>
<text transform="matrix(0.9999,0,0,1,81.959,266.059)" font-size="4.143" font-weight="bold" fill="#222">Tcon</text>
<rect x="77.85" y="268.95" width="3.30" height="3.00" fill="#000" stroke="#1a1a1a" stroke-width="0.7"/>
<text transform="matrix(1.0194,0,0,1,81.956,271.990)" font-size="4.333" font-weight="bold" fill="#222">Tcon+Treg</text>
</g>
<defs><filter id="bl" x="0" y="0" width="1" height="1"><feGaussianBlur stdDeviation="0.25"/></filter></defs>
</svg>
</body></html>
